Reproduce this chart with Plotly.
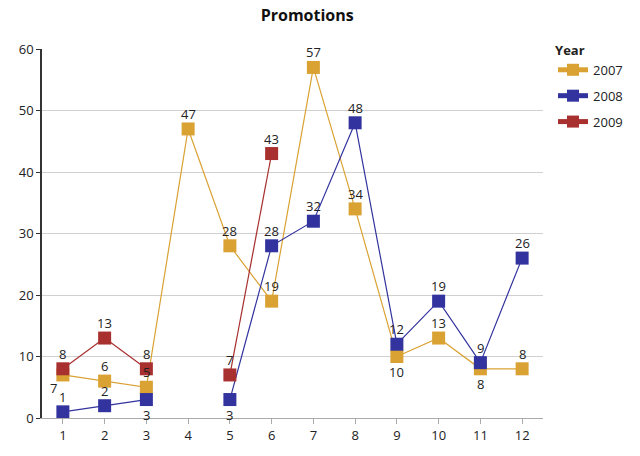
import plotly.graph_objects as go

months = list(range(1, 13))
tick_labels = [str(m) for m in months]
y2007 = [7, 6, 5, 47, 28, 19, 57, 34, 10, 13, 8, 8]
y2008 = [1, 2, 3, None, 3, 28, 32, 48, 12, 19, 9, 26]
y2009 = [8, 13, 8, None, 7, 43, None, None, None, None, None, None]

# label side: 1 = above marker, -1 = below marker
side2007 = [-1, 1, 1, 1, 1, 1, 1, 1, -1, 1, -1, 1]
side2008 = [1, 1, -1, 1, -1, 1, 1, 1, 1, 1, 1, 1]
side2009 = [1] * 12

series = [
    ("2007", y2007, "#D9A233", side2007),
    ("2008", y2008, "#32339E", side2008),
    ("2009", y2009, "#A8302F", side2009),
]

fig = go.Figure()
annotations = []
for name, ys, color, sides in series:
    fig.add_trace(go.Scatter(
        x=months, y=ys, name=name, mode="lines+markers",
        legendgroup=name,
        line=dict(color=color, width=1.2),
        marker=dict(symbol="square", size=13, color=color),
        connectgaps=False,
        cliponaxis=False,
    ))
    for i, (m, v, s) in enumerate(zip(months, ys, sides)):
        if v is None:
            continue
        ann = dict(
            x=m, y=v, xref="x", yref="y", text=str(v), showarrow=False,
            yanchor="bottom" if s > 0 else "top",
            yshift=5 * s, borderpad=0,
            font=dict(size=13, color="#222222"),
        )
        if i == 0 and name == "2007":
            # crowded spot: nudge label to lower-left of its marker
            ann.update(xanchor="right", xshift=-5, yshift=-3)
        annotations.append(ann)

fig.update_layout(
    width=640, height=456,
    margin=dict(l=42, r=95, t=49, b=28),
    paper_bgcolor="white", plot_bgcolor="white",
    font=dict(family="Open Sans, DejaVu Sans, sans-serif", size=13, color="#222222"),
    title=dict(text="<b>Promotions</b>", x=0.48, xanchor="center", y=0.978, yanchor="top",
               font=dict(size=16, color="#111111")),
    legend=dict(title=dict(text="<b>Year</b>", font=dict(size=13)), x=1.02, xanchor="left",
                y=1.03, yanchor="top", font=dict(size=13), tracegroupgap=6,
                traceorder="grouped", itemsizing="constant"),
    showlegend=True,
    annotations=annotations,
)
fig.update_xaxes(range=[0.5, 12.5], tickmode="array", tickvals=months, ticktext=tick_labels,
                 showgrid=False, showline=True, linecolor="#AAAAAA", ticks="outside",
                 tickcolor="#AAAAAA", ticklen=5, zeroline=False)
fig.update_yaxes(range=[0, 60], dtick=10, showgrid=True, gridcolor="#D0D0D0",
                 showline=True, linecolor="#333333", linewidth=1.5, ticks="outside",
                 ticklen=4, tickcolor="#333333", zeroline=False)

fig.write_html("out.html")
